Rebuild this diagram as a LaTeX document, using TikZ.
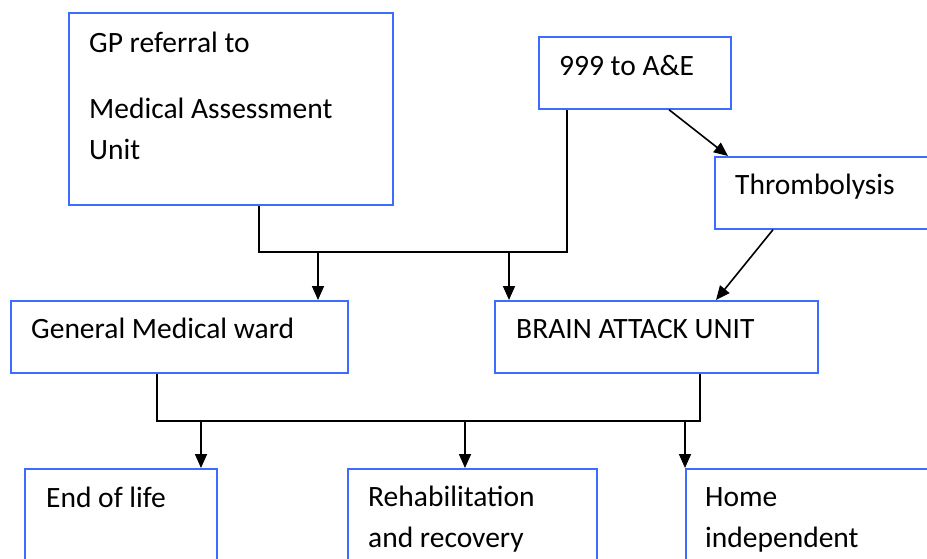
\documentclass[tikz,border=0pt]{standalone}
\usepackage{fontspec}
\setmainfont{Carlito}
\usepackage{xcolor}
\usepackage{tikz}
\usetikzlibrary{positioning, arrows.meta, calc}
\definecolor{path-blue}{HTML}{3D6DFF}
\definecolor{path-dark}{HTML}{000000}

\begin{document}
\begin{tikzpicture}[x=1pt, y=-1pt,
    box/.style={draw=path-blue, line width=1.7pt, anchor=north west, inner sep=0pt},
    lbl/.style={anchor=base west, inner sep=0pt, align=left, text=path-dark,
                font=\fontsize{29.5}{41}\selectfont},
    link/.style={line width=1.6pt, path-dark},
    arr/.style={link, -{Triangle[length=14pt, width=12pt]}},
]
    \useasboundingbox (0,0) rectangle (927,558);
    \clip (0,0) rectangle (927,558);

    % Admission routes
    \node[box, minimum width=324pt, minimum height=192pt] (gp)  at (68,12)  {};
    \node[box, minimum width=192pt, minimum height=72pt]  (ae)  at (538,36) {};
    \node[box, minimum width=250pt, minimum height=72pt]  (thr) at (714,156) {};

    % (base of a multi-line label = its last line)
    \node[lbl] (gptext)  at (89,159) {GP referral to\\[25pt]Medical Assessment\\Unit};
    \node[lbl] (aetext)  at (559,75) {999 to A\&E};
    \node[lbl] (thrtext) at (735,194) {Thrombolysis};

    % Wards
    \node[box, minimum width=337pt, minimum height=72pt] (gmw) at (10,300)  {};
    \node[box, minimum width=323pt, minimum height=72pt] (bau) at (494,300) {};

    \node[lbl] (gmwtext) at (31,338)  {General Medical ward};
    \node[lbl] (bautext) at (516,338) {BRAIN ATTACK UNIT};

    % Outcomes
    \node[box, minimum width=192pt, minimum height=120pt] (eol)  at (24,468)  {};
    \node[box, minimum width=249pt, minimum height=120pt] (reh)  at (347,468) {};
    \node[box, minimum width=280pt, minimum height=120pt] (home) at (685,468) {};

    \node[lbl] (eoltext)  at (46,507)  {End of life};
    \node[lbl] (rehtext)  at (368,547) {Rehabilitation\\and recovery};
    \node[lbl] (hometext) at (705,547) {Home\\independent};

    % Routes into the wards
    \coordinate (gpjoin) at (259,252);
    \coordinate (aejoin) at (567,252);
    \draw[link] (gp.south -| gpjoin) -- (gpjoin) -- (aejoin) -- (ae.south -| aejoin);

    \coordinate (gmwin) at (318,252);
    \coordinate (bauin) at (509,252);
    \draw[arr] (gmwin) -- (gmw.north -| gmwin);
    \draw[arr] (bauin) -- (bau.north -| bauin);

    \draw[arr] ($(ae.south west)+(131,0)$) -- ($(thr.north west)+(14,0)$);
    \draw[arr] ($(thr.south west)+(59,0)$) -- ($(bau.north west)+(222,0)$);

    % Routes out of the wards
    \coordinate (gmwjoin) at (157,421);
    \coordinate (baujoin) at (700,421);
    \draw[link] (gmw.south -| gmwjoin) -- (gmwjoin) -- (baujoin) -- (bau.south -| baujoin);

    \coordinate (eolin)  at (201,421);
    \coordinate (rehin)  at (465,421);
    \coordinate (homein) at (685,421);
    \draw[arr] (eolin)  -- (eol.north -| eolin);
    \draw[arr] (rehin)  -- (reh.north -| rehin);
    \draw[arr] (homein) -- (home.north -| homein);
\end{tikzpicture}
\end{document}
